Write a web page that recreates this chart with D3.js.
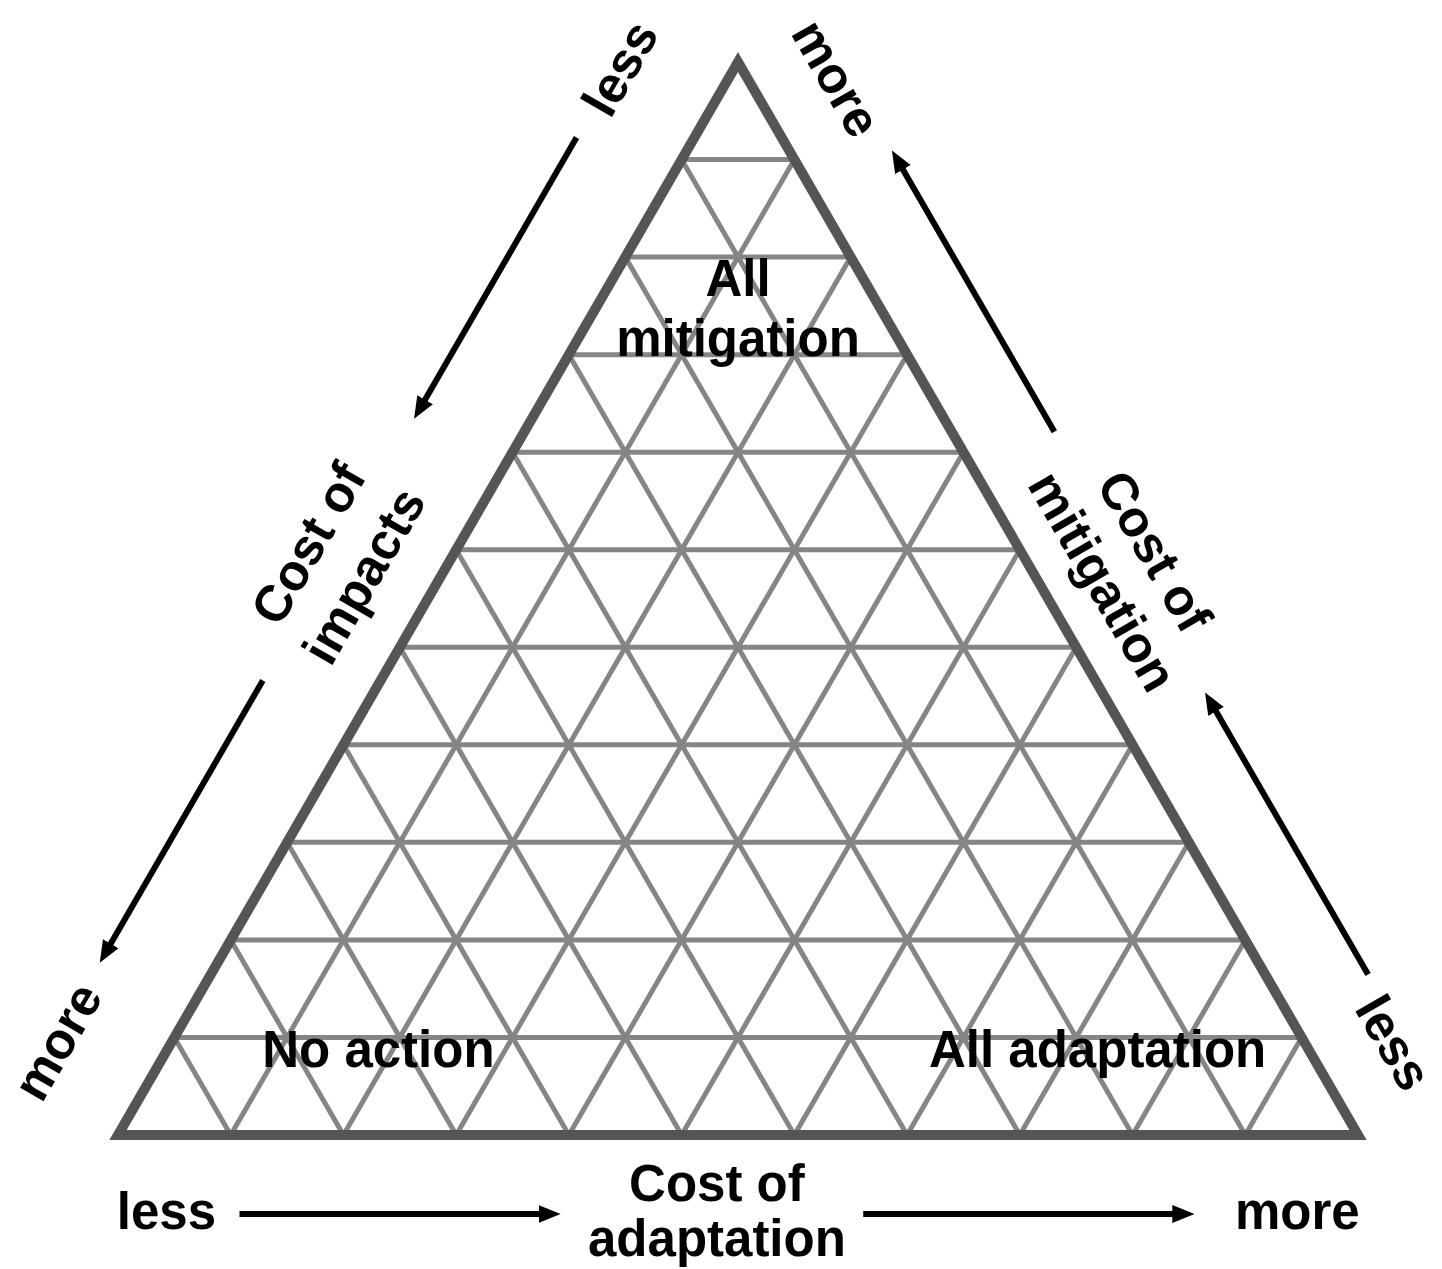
<!DOCTYPE html>
<html>
<head>
<meta charset="utf-8">
<script src="https://cdn.jsdelivr.net/npm/d3@7"></script>
<style>
  body { margin: 0; background: #fff; }
  text { font-family: "Liberation Sans", Arial, sans-serif; font-weight: bold; fill: #000; }
</style>
</head>
<body>
<div id="chart"></div>
<script>
// ternary grid: each side cut into this many steps
var divisions = 11;

// corners: 0 = all impacts (no action), 1 = all adaptation, 2 = all mitigation
var axisTitles = [["Cost of", "adaptation"], ["Cost of", "mitigation"], ["Cost of", "impacts"]];
var axisFrom = [0, 1, 2];   // corner where that cost is "less"
var axisTo = [1, 2, 0];     // corner where that cost is "more"
var axisEnds = ["less", "more"];

var regionNames = [["All", "mitigation"], ["No action"], ["All adaptation"]];
var regionImpacts = [0.115, 0.75, 0.17];
var regionAdaptation = [0.115, 0.17, 0.75];
var regionMitigation = [0.77, 0.08, 0.08];

render();

function render() {
  var width = 1442, height = 1269;

  var svg = d3.select("#chart")
    .append("svg")
    .attr("width", width)
    .attr("height", height);

  var xScale = d3.scaleLinear().domain([0, 1]).range([118, 1358]);
  var yScale = d3.scaleLinear().domain([0, 1]).range([1135, 62]);

  function project(a, m) {
    return [xScale(a + m / 2), yScale(m)];
  }
  function cornerPoint(c) {
    return project(c == 1 ? 1 : 0, c == 2 ? 1 : 0);
  }

  var line = d3.line();
  var steps = d3.range(1, divisions).map(function (k) { return k / divisions; });

  // grid
  var grid = svg.append("g")
    .attr("fill", "none")
    .attr("stroke", "#858585")
    .attr("stroke-width", 5);

  steps.forEach(function (v) {
    grid.append("path").attr("d", line([project(0, v), project(1 - v, v)]));
    grid.append("path").attr("d", line([project(v, 0), project(v, 1 - v)]));
    grid.append("path").attr("d", line([project(1 - v, 0), project(0, 1 - v)]));
  });

  // outer frame
  var corners = [0, 1, 2].map(cornerPoint);
  svg.append("path")
    .attr("d", d3.line().curve(d3.curveLinearClosed)(corners))
    .attr("fill", "none")
    .attr("stroke", "#555")
    .attr("stroke-width", 10)
    .attr("stroke-linejoin", "miter");

  var cx = d3.mean(corners, function (d) { return d[0]; });
  var cy = d3.mean(corners, function (d) { return d[1]; });

  svg.append("defs").append("marker")
    .attr("id", "head")
    .attr("viewBox", "0 -10 22 20")
    .attr("refX", 14)
    .attr("refY", 0)
    .attr("markerWidth", 22)
    .attr("markerHeight", 20)
    .attr("markerUnits", "userSpaceOnUse")
    .attr("orient", "auto")
    .append("path")
    .attr("d", "M0,-9L22,0L0,9Z")
    .attr("fill", "#000");

  // layout along each edge (bottom, right, left)
  var edgeGap = [76, 86, 99];
  var endGap = [76, 77, 99];
  var titleAt = [0.483, 0.49, 0.51];
  var lineGap = [55, 60, 64];
  var endsAt = [[0.039, 0.951], [0.05, 0.949], [0.052, 0.959]];
  var arrowSpans = [
    [[0.098, 0.357], [0.601, 0.868]],
    [[0.108, 0.371], [0.614, 0.876]],
    [[0.118, 0.38], [0.624, 0.887]]
  ];

  axisTitles.forEach(function (title, j) {
    var p0 = cornerPoint(axisFrom[j]), p1 = cornerPoint(axisTo[j]);
    var dx = p1[0] - p0[0], dy = p1[1] - p0[1];
    var len = Math.sqrt(dx * dx + dy * dy);
    var ux = dx / len, uy = dy / len;
    var nx = uy, ny = -ux;
    var mx = (p0[0] + p1[0]) / 2 - cx, my = (p0[1] + p1[1]) / 2 - cy;
    if (nx * mx + ny * my < 0) { nx = -nx; ny = -ny; }

    function at(s, off) {
      return [p0[0] + ux * len * s + nx * off, p0[1] + uy * len * s + ny * off];
    }

    var angle = Math.atan2(uy, ux) * 180 / Math.PI;
    if (angle > 90) angle -= 180;
    if (angle < -90) angle += 180;

    var gap = edgeGap[j];

    // title
    var tp = at(titleAt[j], gap);
    var tg = svg.append("g")
      .attr("transform", "translate(" + tp[0] + "," + tp[1] + ") rotate(" + angle + ")");
    tg.selectAll("text")
      .data(title)
      .enter()
      .append("text")
      .attr("x", 0)
      .attr("y", function (d, i) { return (i - (title.length - 1) / 2) * lineGap[j]; })
      .attr("text-anchor", "middle")
      .attr("dominant-baseline", "central")
      .style("font-size", "51px")
      .text(function (d) { return d; });

    // less / more
    axisEnds.forEach(function (label, e) {
      var p = at(endsAt[j][e], endGap[j]);
      svg.append("text")
        .attr("transform", "translate(" + p[0] + "," + p[1] + ") rotate(" + angle + ")")
        .attr("text-anchor", "middle")
        .attr("dominant-baseline", "central")
        .style("font-size", "51px")
        .text(label);
    });

    // arrows from less to more
    arrowSpans[j].forEach(function (span) {
      var a = at(span[0], gap + 3);
      var b = at(span[1] - 8 / len, gap + 3);
      svg.append("line")
        .attr("x1", a[0]).attr("y1", a[1])
        .attr("x2", b[0]).attr("y2", b[1])
        .attr("stroke", "#000")
        .attr("stroke-width", 6)
        .attr("marker-end", "url(#head)");
    });
  });

  // corner region labels
  regionNames.forEach(function (lines, r) {
    var sum = regionImpacts[r] + regionAdaptation[r] + regionMitigation[r];
    var p = project(regionAdaptation[r] / sum, regionMitigation[r] / sum);
    svg.append("g")
      .attr("transform", "translate(" + p[0] + "," + p[1] + ")")
      .selectAll("text")
      .data(lines)
      .enter()
      .append("text")
      .attr("x", 0)
      .attr("y", function (d, i) { return (i - (lines.length - 1) / 2) * 60; })
      .attr("text-anchor", "middle")
      .attr("dominant-baseline", "central")
      .style("font-size", "51px")
      .text(function (d) { return d; });
  });
}
</script>
</body>
</html>
